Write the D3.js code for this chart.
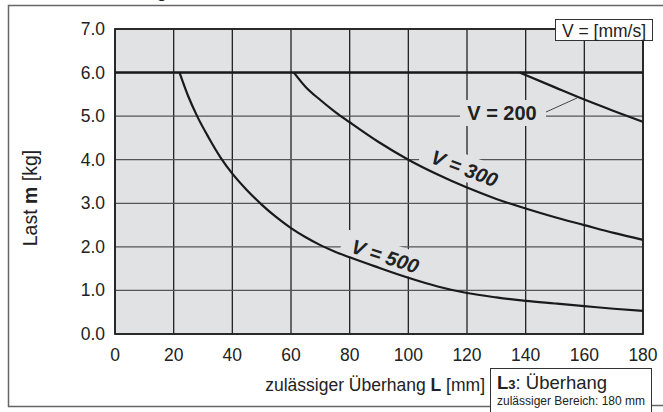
<!DOCTYPE html>
<html><head><meta charset="utf-8">
<script src="https://cdn.jsdelivr.net/npm/d3@7"></script>
<style>body{margin:0;background:#fff}svg{display:block}text{font-family:"Liberation Sans",Arial,sans-serif;fill:#222}</style>
</head><body><div id="c"></div>
<script>
const xTicks = [0,20,40,60,80,100,120,140,160,180];
const yTicks = [0,1,2,3,4,5,6,7];
const limitLine = [[0,6.0],[180,6.0]];
const v500 = [[22,6.0],[25,5.45],[28,5.0],[32,4.5],[36,4.05],[40,3.68],[45,3.3],[50,2.97],[55,2.68],[60,2.43],[65,2.22],[70,2.04],[75,1.89],[80,1.76],[90,1.52],[100,1.29],[110,1.09],[120,0.94],[130,0.84],[140,0.76],[150,0.7],[160,0.64],[170,0.58],[180,0.53]];
const v300 = [[61,6.0],[65,5.67],[70,5.37],[75,5.1],[80,4.86],[90,4.4],[100,4.0],[110,3.66],[120,3.36],[130,3.1],[140,2.88],[150,2.68],[160,2.5],[170,2.32],[180,2.16]];
const v200 = [[138,6.0],[150,5.66],[160,5.38],[170,5.12],[180,4.87]];

const W=663,H=412;
const svg=d3.select("#c").append("svg").attr("width",W).attr("height",H);
const x=d3.scaleLinear().domain([0,180]).range([115,643]);
const y=d3.scaleLinear().domain([0,7]).range([334,29]);

// outer frame
const fr="#666";
svg.append("path").attr("d","M8.5,407 L8.5,5.5 L663,5.5").attr("fill","none").attr("stroke",fr).attr("stroke-width",1.5);
svg.append("line").attr("x1",8).attr("x2",490).attr("y1",406.5).attr("y2",406.5).attr("stroke",fr).attr("stroke-width",1.5);
svg.append("line").attr("x1",652).attr("x2",663).attr("y1",405.5).attr("y2",405.5).attr("stroke",fr).attr("stroke-width",1.5);
svg.append("text").attr("x",157).attr("y",-2).attr("font-size",16).attr("font-weight","bold").text("g");

// plot background
svg.append("rect").attr("x",x(0)).attr("y",y(7)).attr("width",x(180)-x(0)).attr("height",y(0)-y(7)).attr("fill","#e1e2e4");

// grid
const g=svg.append("g");
g.selectAll(".vg").data(xTicks).join("line").attr("x1",d=>x(d)).attr("x2",d=>x(d)).attr("y1",y(0)).attr("y2",y(7)).attr("stroke","#222").attr("stroke-width",1.3);
g.selectAll(".hg").data(yTicks).join("line").attr("x1",x(0)).attr("x2",x(180)).attr("y1",d=>y(d)).attr("y2",d=>y(d)).attr("stroke","#555").attr("stroke-width",1.3);

// label knockouts
const bg="#e1e2e4";
svg.append("rect").attr("x",460).attr("y",100).attr("width",86).attr("height",26).attr("fill",bg);
svg.append("rect").attr("x",-44).attr("y",-14).attr("width",88).attr("height",26).attr("fill",bg).attr("transform","translate(463,168) rotate(21)");
svg.append("rect").attr("x",-44).attr("y",-14).attr("width",88).attr("height",26).attr("fill",bg).attr("transform","translate(384,256) rotate(18)");

// border
svg.append("rect").attr("x",x(0)).attr("y",y(7)).attr("width",x(180)-x(0)).attr("height",y(0)-y(7)).attr("fill","none").attr("stroke","#222").attr("stroke-width",1.8);

// curves
const line=d3.line().x(d=>x(d[0])).y(d=>y(d[1])).curve(d3.curveMonotoneX);
svg.append("path").attr("d",d3.line().x(d=>x(d[0])).y(d=>y(d[1]))(limitLine)).attr("stroke","#1a1a1a").attr("stroke-width",2.6).attr("fill","none");
[v500,v300,v200].forEach(s=>svg.append("path").attr("d",line(s)).attr("stroke","#1a1a1a").attr("stroke-width",2.2).attr("fill","none"));

// curve labels
svg.append("text").attr("x",502).attr("y",120).attr("text-anchor","middle").attr("font-size",20).attr("font-weight","bold").text("V = 200");
svg.append("line").attr("x1",546).attr("y1",112).attr("x2",577).attr("y2",98).attr("stroke","#333").attr("stroke-width",0.9);
svg.append("text").attr("transform","translate(462,175) rotate(21)").attr("text-anchor","middle").attr("font-size",20).attr("font-weight","bold").attr("font-style","italic").text("V = 300");
svg.append("text").attr("transform","translate(383,263) rotate(18)").attr("text-anchor","middle").attr("font-size",20).attr("font-weight","bold").attr("font-style","italic").text("V = 500");

// tick labels
svg.selectAll(".yl").data(yTicks).join("text").attr("x",105).attr("y",d=>y(d)+6).attr("text-anchor","end").attr("font-size",17.5).text(d=>d.toFixed(1));
svg.selectAll(".xl").data(xTicks).join("text").attr("x",d=>x(d)).attr("y",361).attr("text-anchor","middle").attr("font-size",17.5).text(d=>d);

// axis titles
const xt=svg.append("text").attr("x",485).attr("y",391).attr("text-anchor","end").attr("font-size",17.5);
xt.append("tspan").text("zulässiger Überhang ");
xt.append("tspan").attr("font-weight","bold").text("L");
xt.append("tspan").text(" [mm]");
const yt=svg.append("text").attr("transform","translate(37,198) rotate(-90)").attr("text-anchor","middle").attr("font-size",19.5);
yt.append("tspan").text("Last ");
yt.append("tspan").attr("font-weight","bold").text("m");
yt.append("tspan").text(" [kg]");

// V box
svg.append("rect").attr("x",555.5).attr("y",19.5).attr("width",97).attr("height",21).attr("fill","#fff").attr("stroke","#333").attr("stroke-width",1);
svg.append("text").attr("x",604).attr("y",36.5).attr("text-anchor","middle").attr("font-size",17.5).text("V = [mm/s]");

// L3 box
svg.append("rect").attr("x",490.5).attr("y",368.5).attr("width",161).attr("height",50).attr("fill","#fff").attr("stroke","#333").attr("stroke-width",1);
const lt=svg.append("text").attr("x",497).attr("y",389).attr("font-size",18.5);
lt.append("tspan").attr("font-weight","bold").text("L");
lt.append("tspan").attr("font-size",13).attr("font-weight","bold").text("3");
lt.append("tspan").text(": Überhang");
svg.append("text").attr("x",497).attr("y",405).attr("font-size",12.5).attr("textLength",148).attr("lengthAdjust","spacingAndGlyphs").text("zulässiger Bereich: 180 mm");
</script></body></html>
